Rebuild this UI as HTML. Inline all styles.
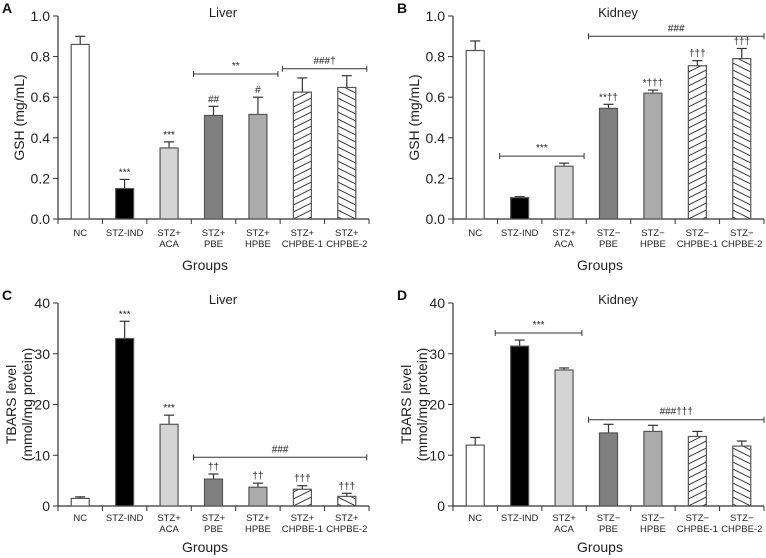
<!DOCTYPE html>
<html><head><meta charset="utf-8"><style>
body{margin:0;background:#fff}
svg{display:block;font-family:"Liberation Sans",sans-serif}
</style></head><body>
<svg id="fig" width="766" height="558" viewBox="0 0 766 558"></svg>
<script>
const categories=["NC","STZ-IND","STZ+|ACA","STZ+|PBE","STZ+|HPBE","STZ+|CHPBE-1","STZ+|CHPBE-2"];
const categoriesB=["NC","STZ-IND","STZ+|ACA","STZ−|PBE","STZ−|HPBE","STZ−|CHPBE-1","STZ−|CHPBE-2"];
const valsA=[0.86,0.15,0.35,0.51,0.515,0.625,0.648];
const errA=[0.04,0.045,0.03,0.045,0.085,0.07,0.058];
const annA=["","***","***","##","#","",""];
const valsB=[0.83,0.105,0.26,0.545,0.62,0.755,0.79];
const errB=[0.047,0.005,0.015,0.02,0.015,0.025,0.05];
const annB=["","","","**††","*†††","†††","†††"];
const valsC=[1.5,33,16.1,5.3,3.7,3.3,1.9];
const errC=[0.3,3.4,1.8,1,0.8,0.7,0.6];
const annC=["","***","***","††","††","†††","†††"];
const valsD=[12,31.5,26.8,14.4,14.7,13.7,11.8];
const errD=[1.5,1.2,0.4,1.7,1.2,1,1];
const annD=["","","","","","",""];
const ticksGSH=["0.0","0.2","0.4","0.6","0.8","1.0"];
const ticksTB=["0","10","20","30","40"];
const fills=["#fff","#000","#d4d4d4","#808080","#ababab","hatch1","hatch2"];
const NS="http://www.w3.org/2000/svg";
const svg=document.getElementById('fig');
function mk(tag,attrs,parent,text){const e=document.createElementNS(NS,tag);for(const k in attrs)e.setAttribute(k,attrs[k]);if(text!==undefined)e.textContent=text;(parent||svg).appendChild(e);return e;}
let pid=0;
function panel(o){
  const g=mk('g',{});
  
  
  const x0=o.x0,x1=o.x0+311,y0=o.y0,yt=o.y0-203;
  const ys=v=>y0-(v/o.max)*203;
  const step=(x1-x0)/7;
  const xc=i=>x0+step*(i+0.5);
  const ln=mk('line',{x1:x0,y1:yt,x2:x0,y2:y0,stroke:'#333','stroke-width':1.2},g);
  
  const lx=mk('line',{x1:x0,y1:y0,x2:x1,y2:y0,stroke:'#333','stroke-width':1.2},g);
  
  o.ticks.forEach((t,i)=>{const v=o.max*i/(o.ticks.length-1);const y=ys(v);
    mk('line',{x1:x0-5,y1:y,x2:x0,y2:y,stroke:'#333'},g);
    const tx=mk('text',{x:x0-8,y:y+5,'text-anchor':'end','font-size':14,fill:'#222'},g,t);
    });
  for(let i=0;i<=7;i++)mk('line',{x1:x0+step*i,y1:y0,x2:x0+step*i,y2:y0+5,stroke:'#333'},g);
  o.cats.forEach((c,i)=>{const p=c.split('|');p.forEach((s,j)=>{const t=mk('text',{x:xc(i),y:y0+o.cy+j*11,'text-anchor':'middle','font-size':9.5,fill:'#222'},g,s);
    });});
  const gt=mk('text',{x:x0+147,y:y0+o.gy,'text-anchor':'middle','font-size':14,fill:'#222'},g,'Groups');
  
  const tt=mk('text',{x:x0+165,y:yt+1,'text-anchor':'middle','font-size':13,fill:'#222'},g,o.title);
  
  const lt=mk('text',{x:o.x0-56,y:yt-3,'font-size':14,'font-weight':'bold',fill:'#111'},g,o.letter);
  
  const yl=mk('text',{transform:`translate(${o.x0-38},${(yt+y0)/2}) rotate(-90)`,'text-anchor':'middle','font-size':14,fill:'#222'},g);
  
  o.ylab.forEach((s,j)=>{mk('tspan',{x:0,dy:j==0?(o.ylab.length>1?-4:4):16},yl,s);});
  const bw=18;
  o.vals.forEach((v,i)=>{
    const bx=xc(i)-bw/2,by=ys(v);let f=fills[i];
    if(f.startsWith('hatch')){const id='h'+(pid++);const pat=mk('pattern',{id:id,patternUnits:'userSpaceOnUse',x:bx,y:0,width:bw,height:7},g);
      const up=f==='hatch1';
      for(let k=-2;k<=2;k++){const yy=k*7;mk('line',{x1:0,y1:up?yy+9:yy,x2:bw,y2:up?yy:yy+9,stroke:'#222','stroke-width':0.9},pat);}
      f='url(#'+id+')';}
    const ey=ys(v+o.err[i]);
    mk('line',{x1:xc(i),y1:by,x2:xc(i),y2:ey,stroke:'#333','stroke-width':1.2},g);
    mk('line',{x1:xc(i)-5,y1:ey,x2:xc(i)+5,y2:ey,stroke:'#333','stroke-width':1.2},g);
    const r=mk('rect',{x:bx,y:by,width:bw,height:y0-by,fill:f,stroke:'#555','stroke-width':1.2},g);
    
    if(o.ann[i]){const a=mk('text',{x:xc(i),y:ey-4,'text-anchor':'middle','font-size':10,fill:'#222'},g,o.ann[i]);
      }
  });
  o.brackets.forEach(b=>{const y=ys(b[2]),xa=x0+step*b[0],xb=x0+step*b[1];
    mk('line',{x1:xa,y1:y,x2:xb,y2:y,stroke:'#333'},g);
    mk('line',{x1:xa,y1:y-3,x2:xa,y2:y+3,stroke:'#333'},g);
    mk('line',{x1:xb,y1:y-3,x2:xb,y2:y+3,stroke:'#333'},g);
    const t=mk('text',{x:(xa+xb)/2,y:y-5,'text-anchor':'middle','font-size':10,fill:'#222'},g,b[3]);
    });
}
panel({letter:'A',title:'Liver',x0:58,y0:219,max:1,cy:17,gy:51,ticks:ticksGSH,cats:categories,vals:valsA,err:errA,ann:annA,ylab:['GSH (mg/mL)'],brackets:[[3.05,4.95,0.714,'**'],[5.05,6.95,0.74,'###†']]});
panel({letter:'B',title:'Kidney',x0:453,y0:219,max:1,cy:17,gy:51,ticks:ticksGSH,cats:categoriesB,vals:valsB,err:errB,ann:annB,ylab:['GSH (mg/mL)'],brackets:[[1.05,2.95,0.31,'***'],[3.05,7,0.90,'###']]});
panel({letter:'C',title:'Liver',x0:58,y0:506,max:40,cy:15,gy:46,ticks:ticksTB,cats:categories,vals:valsC,err:errC,ann:annC,ylab:['TBARS level','(mmol/mg protein)'],brackets:[[3.05,6.95,9.6,'###']]});
panel({letter:'D',title:'Kidney',x0:453,y0:506,max:40,cy:15,gy:46,ticks:ticksTB,cats:categoriesB,vals:valsD,err:errD,ann:annD,ylab:['TBARS level','(mmol/mg protein)'],brackets:[[0.95,2.9,34.1,'***'],[3.05,7,17,'###†††']]});
</script>
</body></html>
